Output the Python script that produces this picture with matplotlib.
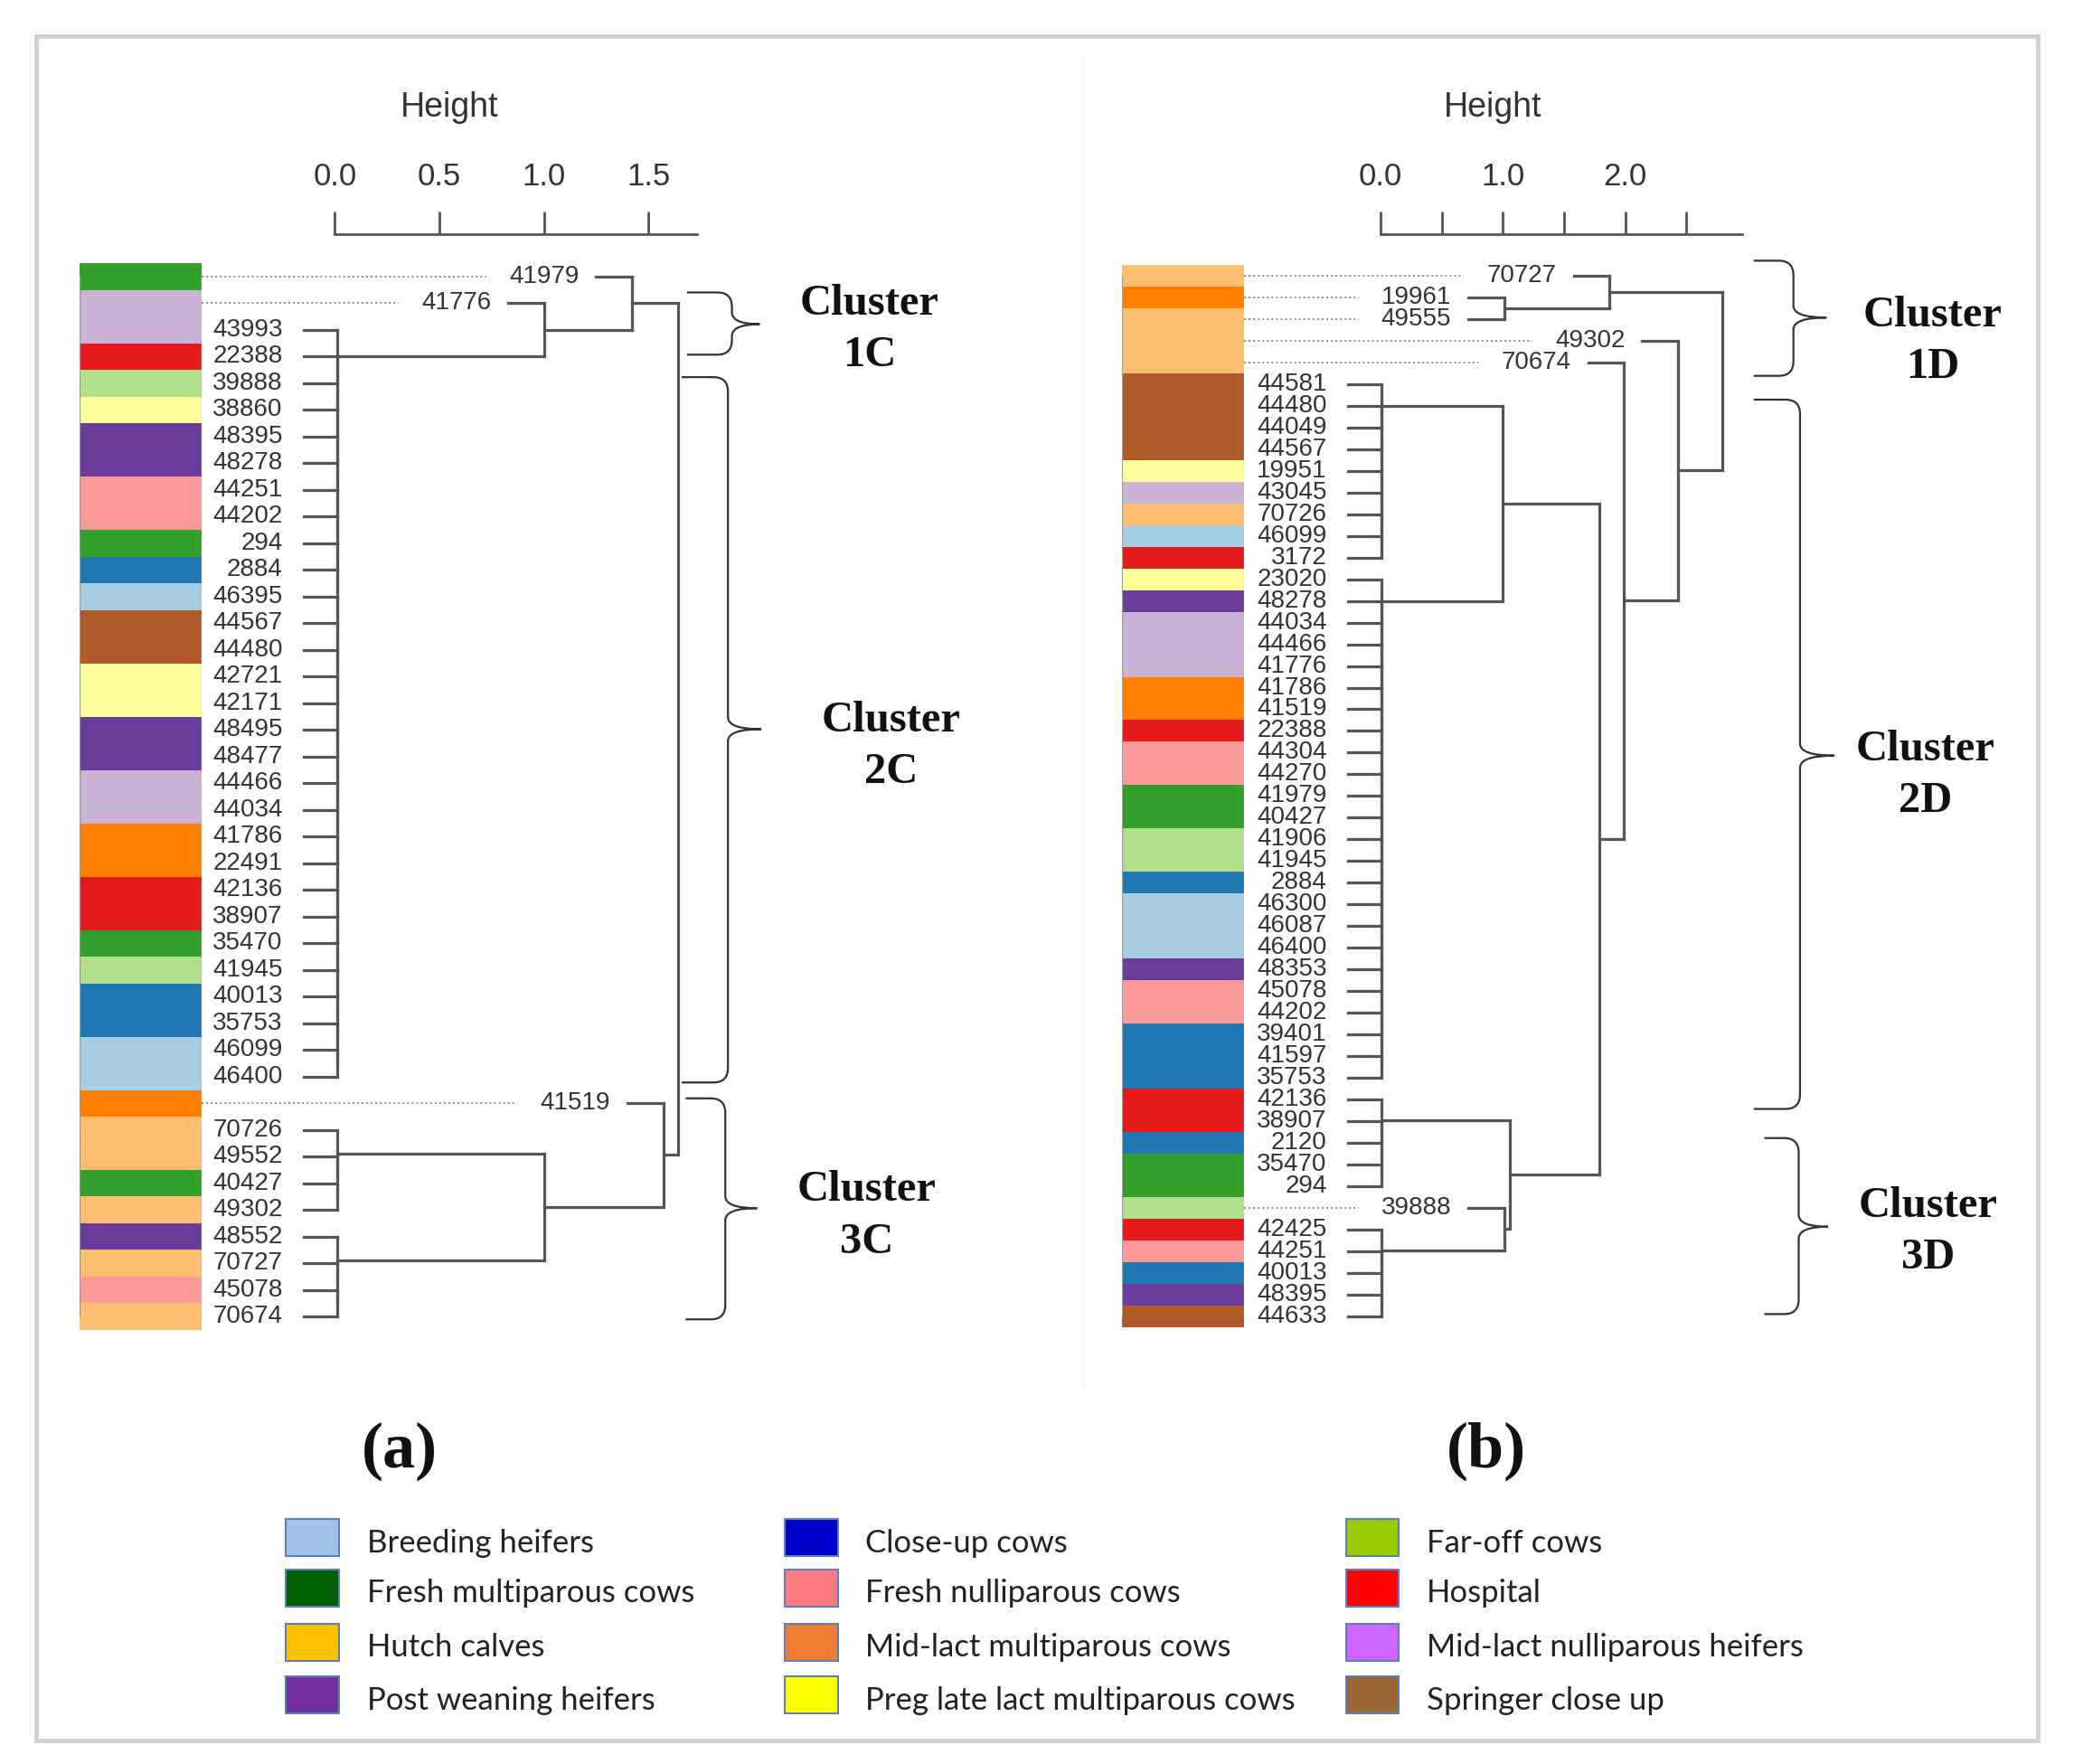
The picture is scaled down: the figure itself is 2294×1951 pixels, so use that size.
import matplotlib
matplotlib.use("Agg")
import matplotlib.pyplot as plt
from matplotlib import font_manager
from matplotlib.patches import Rectangle, PathPatch
from matplotlib.path import Path
from matplotlib.transforms import Affine2D

# colours of the side bars (ColorBrewer "Paired")
palette = {
    "LB": "#A6CEE3", "B": "#1F78B4", "LG": "#B2DF8A", "G": "#33A02C",
    "PK": "#FB9A99", "R": "#E31A1C", "LO": "#FDBF6F", "O": "#FF7F00",
    "LV": "#CAB2D6", "P": "#6A3D9A", "Y": "#FFFF99", "BR": "#B15928",
}

# ---- panel (a)
leaves_a = ["41979", "41776", "43993", "22388", "39888", "38860", "48395", "48278",
            "44251", "44202", "294", "2884", "46395", "44567", "44480", "42721",
            "42171", "48495", "48477", "44466", "44034", "41786", "22491", "42136",
            "38907", "35470", "41945", "40013", "35753", "46099", "46400", "41519",
            "70726", "49552", "40427", "49302", "48552", "70727", "45078", "70674"]
groups_a = ["G", "LV", "LV", "R", "LG", "Y", "P", "P", "PK", "PK", "G", "B", "LB",
            "BR", "BR", "Y", "Y", "P", "P", "LV", "LV", "O", "O", "R", "R", "G", "LG",
            "B", "B", "LB", "LB", "O", "LO", "LO", "G", "LO", "P", "LO", "PK", "LO"]
# (height, left, right) ; ("flat", height, first, last) = leaves joined at ~0
tree_a = (1.64,
          (1.42, "41979", (1.0, "41776", ("flat", 0.01, "43993", "46400"))),
          (1.57, "41519", (1.0, ("flat", 0.01, "70726", "49302"),
                                ("flat", 0.01, "48552", "70674"))))
ticks_a = [0.0, 0.5, 1.0, 1.5]
ticklabels_a = ["0.0", "0.5", "1.0", "1.5"]

# ---- panel (b)
leaves_b = ["70727", "19961", "49555", "49302", "70674", "44581", "44480", "44049",
            "44567", "19951", "43045", "70726", "46099", "3172", "23020", "48278",
            "44034", "44466", "41776", "41786", "41519", "22388", "44304", "44270",
            "41979", "40427", "41906", "41945", "2884", "46300", "46087", "46400",
            "48353", "45078", "44202", "39401", "41597", "35753", "42136", "38907",
            "2120", "35470", "294", "39888", "42425", "44251", "40013", "48395", "44633"]
groups_b = ["LO", "O", "LO", "LO", "LO", "BR", "BR", "BR", "BR", "Y", "LV", "LO", "LB",
            "R", "Y", "P", "LV", "LV", "LV", "O", "O", "R", "PK", "PK", "G", "G", "LG",
            "LG", "B", "LB", "LB", "LB", "P", "PK", "PK", "B", "B", "B", "R", "R", "B",
            "G", "G", "LG", "R", "PK", "B", "P", "BR"]
tree_b = (2.79,
          (1.87, "70727", (1.01, "19961", "49555")),
          (2.43, "49302",
           (1.99, "70674",
            (1.79,
             (1.0, ("flat", 0.005, "44581", "3172"), ("flat", 0.005, "23020", "35753")),
             (1.06, ("flat", 0.005, "42136", "294"),
                    (1.01, "39888", ("flat", 0.005, "42425", "44633")))))))
ticks_b = [0.0, 0.5, 1.0, 1.5, 2.0, 2.5]
ticklabels_b = ["0.0", "", "1.0", "", "2.0", ""]

# ---- legend
legend_labels = ["Breeding heifers", "Fresh multiparous cows", "Hutch calves", "Post weaning heifers",
                 "Close-up cows", "Fresh nulliparous cows", "Mid-lact multiparous cows",
                 "Preg late lact multiparous cows",
                 "Far-off cows", "Hospital", "Mid-lact nulliparous heifers", "Springer close up"]
legend_colors = ["#9DC3E6", "#006100", "#FFC000", "#7030A0",
                 "#0000CC", "#FF7C80", "#ED7D31", "#FFFF00",
                 "#99CC00", "#FF0000", "#CC66FF", "#996633"]

clusters_a = ["Cluster\n1C", "Cluster\n2C", "Cluster\n3C"]
clusters_b = ["Cluster\n1D", "Cluster\n2D", "Cluster\n3D"]


def font_path(name):
    try:
        return font_manager.findfont(font_manager.FontProperties(family=name),
                                     fallback_to_default=False)
    except ValueError:
        return ""


if "Narrow" in font_path("Liberation Sans Narrow"):
    LEAF_FONT, LEAF_SIZE = "Liberation Sans Narrow", 23
else:
    LEAF_FONT, LEAF_SIZE = "Liberation Sans", 20
SANS = ["Liberation Sans", "DejaVu Sans"]
SERIF = ["Liberation Serif", "DejaVu Serif"]
LINE = "#555555"

# layout is worked out on a grid the size of the reference view
W, H = 1567.0, 1333.0
fig = plt.figure(figsize=(22.94, 19.51), dpi=100)
px = Affine2D().scale(1 / W, -1 / H).translate(0, 1) + fig.transFigure


def px_axes(l, t, r, b):
    return fig.add_axes([l / W, 1 - b / H, (r - l) / W, (b - t) / H])


def chain(h, labels):
    if len(labels) == 1:
        return labels[0]
    return (h, labels[0], chain(h, labels[1:]))


def expand(node, leaves):
    if isinstance(node, str):
        return node
    if node[0] == "flat":
        i, j = leaves.index(node[2]), leaves.index(node[3])
        return chain(node[1], leaves[i:j + 1])
    return (node[0], expand(node[1], leaves), expand(node[2], leaves))


def draw(ax, node, pos, u, xmin):
    if isinstance(node, str):
        return pos[node], None
    h, left, right = node
    ys = []
    for child in (left, right):
        y, ch = draw(ax, child, pos, u, xmin)
        if ch is None:
            if h < 0.1:
                ch = h - 25 * u
                ax.text(h - 41 * u, y, child, ha="right", va="center",
                        family=LEAF_FONT, fontsize=LEAF_SIZE, color="#333333")
            else:
                ch = h - 27 * u
                ax.plot([xmin, h - 110 * u], [y, y], ls=(0, (1, 1.6)), lw=1.4, color="#8c8c8c")
                ax.text(h - 40 * u, y, child, ha="right", va="center",
                        family=LEAF_FONT, fontsize=LEAF_SIZE, color="#333333")
        ax.plot([ch, h], [y, y], color=LINE, lw=2.3, solid_capstyle="projecting")
        ys.append(y)
    ax.plot([h, h], ys, color=LINE, lw=2.3, solid_capstyle="projecting")
    return sum(ys) / 2, h


def panel(leaves, groups, tree, ticks, ticklabels, bar_l, bar_r, top, row, zero, per_unit, right):
    n = len(leaves)
    bottom = top + n * row
    # side colour bar
    cax = px_axes(bar_l, top, bar_r, bottom)
    cax.barh(range(1, n + 1), 1, height=1.0, left=0, color=[palette[g] for g in groups])
    cax.set_xlim(0, 1)
    cax.set_ylim(n + 0.5, 0.5)
    cax.axis("off")
    cax.plot([0, 0], [1, n], color="#9a9a9a", lw=1.5)
    cax.plot([1, 1], [1, n], color="#c0c0c0", lw=1.0)

    # dendrogram with its height axis on top
    ax_top = 177
    ax = px_axes(bar_r, ax_top, right, bottom)
    xmin, xmax = (bar_r - zero) / per_unit, (right - zero) / per_unit
    ax.set_xlim(xmin, xmax)
    ax.set_ylim(n + 0.5, 0.5 - (top - ax_top) / row)
    ax.patch.set_visible(False)
    for s in ("left", "right", "bottom"):
        ax.spines[s].set_visible(False)
    ax.spines["top"].set_bounds(0, xmax)
    ax.spines["top"].set_color(LINE)
    ax.spines["top"].set_linewidth(2)
    ax.xaxis.tick_top()
    ax.set_xticks(ticks)
    ax.set_xticklabels(ticklabels, family=SANS, fontsize=25, color="#333333")
    ax.tick_params(axis="x", direction="out", length=18, width=2, color=LINE, pad=16)
    ax.set_yticks([])
    ax.xaxis.set_label_position("top")
    ax.set_xlabel("Height", family=SANS, fontsize=27, color="#333333", labelpad=36)

    pos = {lab: i + 1 for i, lab in enumerate(leaves)}
    draw(ax, expand(tree, leaves), pos, 1.0 / per_unit, xmin)


panel(leaves_a, groups_a, tree_a, ticks_a, ticklabels_a,
      60, 152, 199, 20.15, 253, 158, 527)
panel(leaves_b, groups_b, tree_b, ticks_b, ticklabels_b,
      848, 940, 200, 16.39, 1043, 92.5, 1316)


def brace(xl, xm, xt, y0, ym, y1, r=11, r2=9):
    verts = [(xl, y0), (xm - r, y0), (xm, y0), (xm, y0 + r),
             (xm, ym - r2), (xm, ym), (xt, ym),
             (xm, ym), (xm, ym + r2),
             (xm, y1 - r), (xm, y1), (xm - r, y1), (xl, y1)]
    codes = [Path.MOVETO, Path.LINETO, Path.CURVE3, Path.CURVE3,
             Path.LINETO, Path.CURVE3, Path.CURVE3,
             Path.CURVE3, Path.CURVE3,
             Path.LINETO, Path.CURVE3, Path.CURVE3, Path.LINETO]
    fig.patches.append(PathPatch(Path(verts, codes), transform=px, fill=False,
                                 edgecolor="#333333", lw=1.6))


# braces and cluster names
brace(519, 553, 574, 221, 245, 268)
brace(515, 550, 575, 285, 551, 818)
brace(518, 548, 572, 830, 913, 997)
brace(1325, 1355, 1380, 197, 240, 284)
brace(1325, 1360, 1386, 302, 571, 838)
brace(1333, 1359, 1381, 860, 927, 993)

for txt, (x, y) in zip(clusters_a + clusters_b,
                       [(657, 249), (673, 564), (655, 919), (1460, 258), (1455, 586), (1457, 931)]):
    fig.text(x / W, 1 - y / H, txt, ha="center", va="center", family=SERIF,
             fontweight="bold", fontsize=35, linespacing=1.4, color="#111111")

fig.text(302 / W, 1 - 1097 / H, "(a)", ha="center", va="center", family=SERIF,
         fontweight="bold", fontsize=52, color="#111111")
fig.text(1123 / W, 1 - 1097 / H, "(b)", ha="center", va="center", family=SERIF,
         fontweight="bold", fontsize=52, color="#111111")

# legend, three columns of four
col_x = [216, 593, 1017]
row_y = [1162, 1200, 1241, 1281]
for k, (lab, col) in enumerate(zip(legend_labels, legend_colors)):
    x, y = col_x[k // 4], row_y[k % 4]
    fig.patches.append(Rectangle((x, y - 14), 40, 28, transform=px, facecolor=col,
                                 edgecolor="#5b7fbf", lw=1.5))
    fig.text((x + 61) / W, 1 - (y + 4) / H, lab, ha="left", va="center",
             family=["Lato", "DejaVu Sans"], fontsize=25, color="#222222")

# outer frame and faint panel divider
fig.patches.append(Rectangle((27, 27), 1513, 1288, transform=px, fill=False,
                             edgecolor="#d0d0d0", lw=3.5))
fig.lines.append(plt.Line2D([818, 818], [40, 1050], transform=px, color="#f2f2f2", lw=1))

fig.savefig("out.png", dpi=100, facecolor="white")
